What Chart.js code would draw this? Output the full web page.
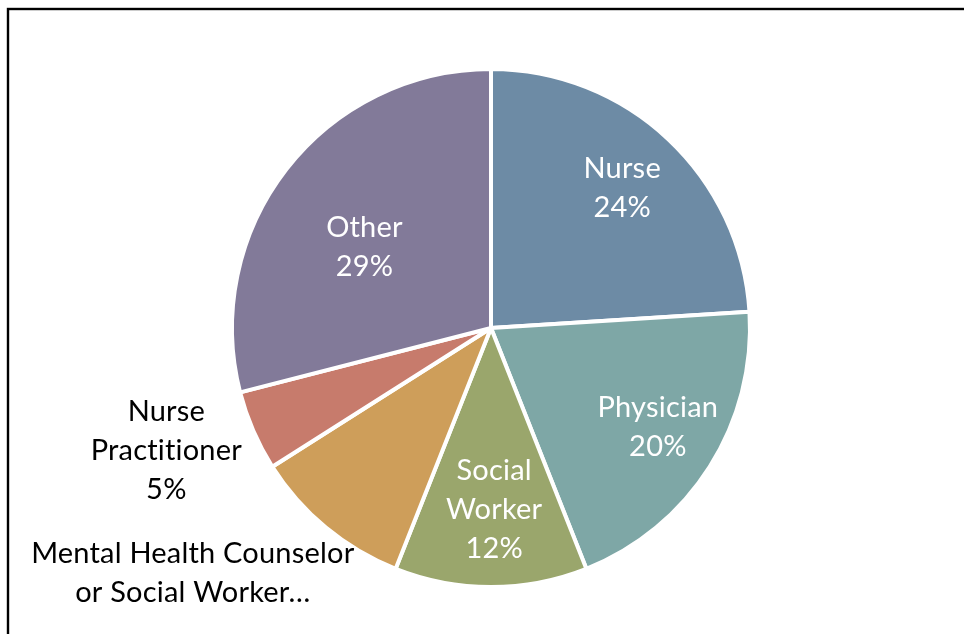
<!DOCTYPE html>
<html>
<head>
<meta charset="utf-8">
<script src="https://cdn.jsdelivr.net/npm/chart.js@4.4.1/dist/chart.umd.min.js"></script>
<style>
  html, body { margin: 0; padding: 0; background: #ffffff; }
  #wrap { position: relative; width: 964px; height: 634px; }
</style>
</head>
<body>
<div id="wrap"><canvas id="c" width="964" height="634"></canvas></div>
<script>
const categories = ["Nurse", "Physician", "Social Worker", "Mental Health Counselor or Social Worker…", "Nurse Practitioner", "Other"];
const shares = [24, 20, 12, 10, 5, 29];
const labelLines = [
  ["Nurse", "24%"],
  ["Physician", "20%"],
  ["Social", "Worker", "12%"],
  ["Mental Health Counselor", "or Social Worker…"],
  ["Nurse", "Practitioner", "5%"],
  ["Other", "29%"]
];
const sliceColors = ["#6D8BA5", "#7EA7A6", "#9AA66C", "#CE9E5A", "#C77B6C", "#827A99"];

// label placement: radial factor, angle shift (deg), text colour
const labelPlacement = [
  { f: 0.74, dA: 0, color: "#ffffff" },
  { f: 0.75, dA: -1.6, color: "#ffffff" },
  { f: 0.70, dA: -1, color: "#ffffff" },
  { f: 1.49, dA: 11, color: "#000000" },
  { f: 1.34, dA: 2.7, color: "#000000" },
  { f: 0.58, dA: -5.2, color: "#ffffff" }
];

const labelPlugin = {
  id: "sliceLabels",
  afterDatasetsDraw(chart) {
    const ctx = chart.ctx;
    const meta = chart.getDatasetMeta(0);
    ctx.save();
    ctx.font = "29px Lato";
    if ("letterSpacing" in ctx) ctx.letterSpacing = "0.2px";
    ctx.textAlign = "center";
    ctx.textBaseline = "middle";
    const lh = 39;
    meta.data.forEach((arc, i) => {
      const p = arc.getProps(["x", "y", "startAngle", "endAngle", "outerRadius"], true);
      const pl = labelPlacement[i];
      const mid = (p.startAngle + p.endAngle) / 2 + pl.dA * Math.PI / 180;
      const r = p.outerRadius * pl.f;
      const cx = p.x + Math.cos(mid) * r;
      const cy = p.y + Math.sin(mid) * r;
      const lines = labelLines[i];
      ctx.fillStyle = pl.color;
      lines.forEach((t, k) => {
        ctx.fillText(t, cx, cy + (k - (lines.length - 1) / 2) * lh);
      });
    });
    ctx.restore();
  }
};

const framePlugin = {
  id: "frame",
  afterDraw(chart) {
    const ctx = chart.ctx;
    ctx.save();
    ctx.strokeStyle = "#000000";
    ctx.lineWidth = 2.4;
    ctx.strokeRect(8, 9, 2000, 2000);
    ctx.restore();
  }
};

new Chart(document.getElementById("c"), {
  type: "pie",
  data: {
    labels: categories,
    datasets: [{
      data: shares,
      backgroundColor: sliceColors,
      borderColor: "#ffffff",
      borderWidth: 4
    }]
  },
  options: {
    responsive: false,
    animation: false,
    layout: { padding: { top: 67, bottom: 45, left: 18, right: 0 } },
    plugins: {
      legend: { display: false },
      tooltip: { enabled: false }
    }
  },
  plugins: [labelPlugin, framePlugin]
});
</script>
</body>
</html>
